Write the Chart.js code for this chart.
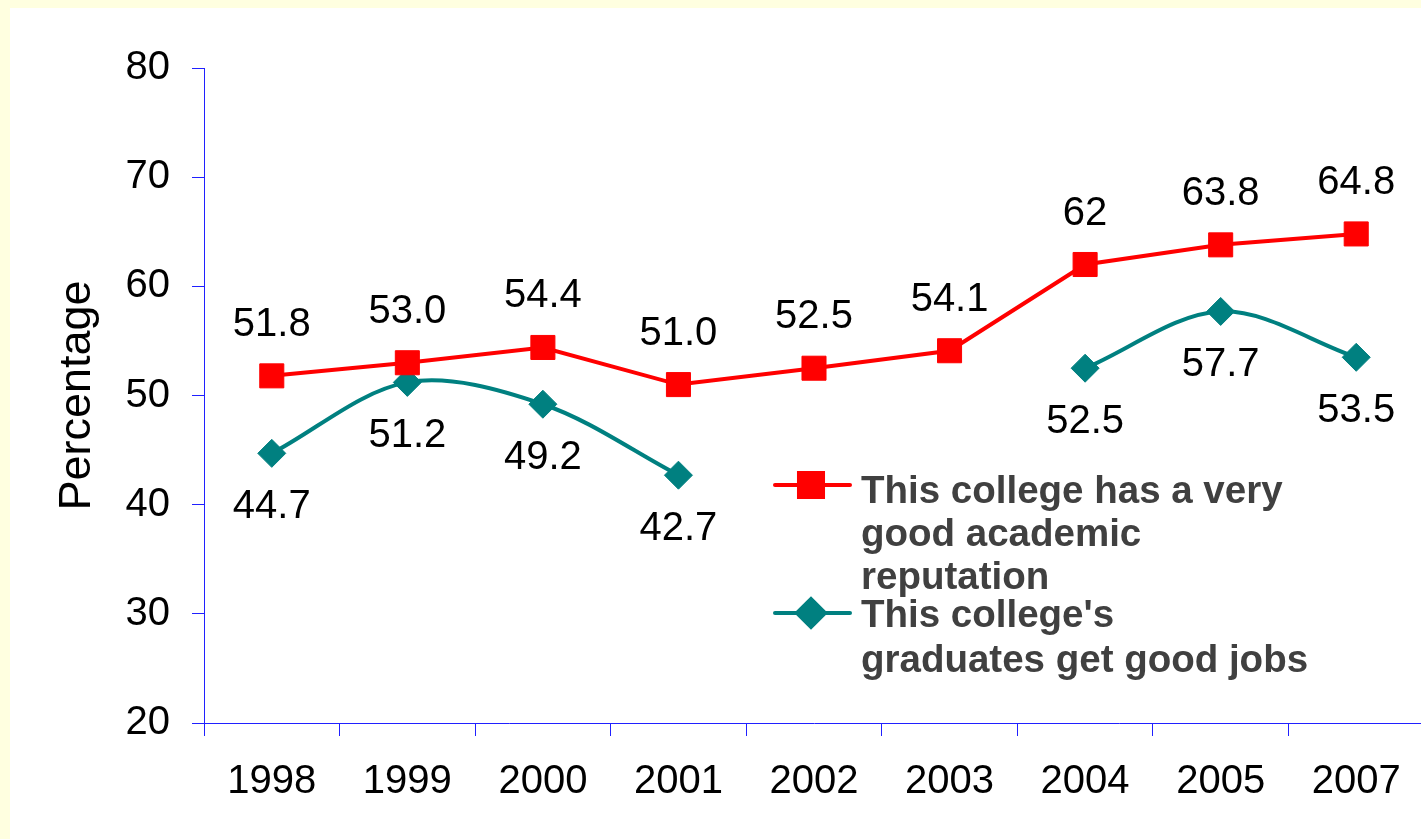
<!DOCTYPE html>
<html>
<head>
<meta charset="utf-8">
<script src="https://cdn.jsdelivr.net/npm/chart.js@4/dist/chart.umd.min.js"></script>
<style>
	html, body { margin: 0; padding: 0; background: #FFFFE0; overflow: hidden; }
	body { width: 1421px; height: 839px; position: relative; }
	#panel { position: absolute; left: 10px; top: 8px; width: 1411px; height: 831px; background: #ffffff; }
	#chart1 { position: absolute; left: 10px; top: 8px; }
</style>
</head>
<body>
<div id="panel"></div>
<canvas id="chart1" width="1432" height="831"></canvas>
<script>
//chart data
var years = ["1998", "1999", "2000", "2001", "2002", "2003", "2004", "2005", "2007"];

var reputationValues = [51.8, 53.0, 54.4, 51.0, 52.5, 54.1, 62, 63.8, 64.8];
var reputationLabels = ["51.8", "53.0", "54.4", "51.0", "52.5", "54.1", "62", "63.8", "64.8"];

var jobsValues = [44.7, 51.2, 49.2, 42.7, null, null, 52.5, 57.7, 53.5];
var jobsLabels = ["44.7", "51.2", "49.2", "42.7", "", "", "52.5", "57.7", "53.5"];

var yTicks = [20, 30, 40, 50, 60, 70, 80];

var legendLines = [
	["This college has a very", "good academic", "reputation"],
	["This college's", "graduates get good jobs"]
];

var axisBlue = "#2020ff";
var fontFamily = "'Liberation Sans', Arial, sans-serif";

//draws the value above/below every point
var valueLabels = {
	id: "valueLabels",
	afterDatasetsDraw: function(chart) {
		var ctx = chart.ctx;
		ctx.save();
		ctx.font = "40px " + fontFamily;
		ctx.fillStyle = "#000000";
		ctx.textAlign = "center";
		ctx.textBaseline = "middle";
		chart.data.datasets.forEach(function(ds, d) {
			var meta = chart.getDatasetMeta(d);
			meta.data.forEach(function(pt, i) {
				var txt = ds.valueText[i];
				if (!txt || ds.data[i] === null) return;
				ctx.fillText(txt, pt.x, pt.y + ds.labelShift);
			});
		});
		ctx.restore();
	}
};

//legend drawn inside the plot, like the original
var insideLegend = {
	id: "insideLegend",
	afterDraw: function(chart) {
		var ctx = chart.ctx;
		var rows = [
			{ markY: 477, textY: [484, 527, 570] },
			{ markY: 605, textY: [608, 653] }
		];
		ctx.save();
		chart.data.datasets.forEach(function(ds, d) {
			var r = rows[d];
			ctx.strokeStyle = ds.borderColor;
			ctx.lineWidth = 4;
			ctx.lineCap = "round";
			ctx.beginPath();
			ctx.moveTo(765, r.markY);
			ctx.lineTo(840, r.markY);
			ctx.stroke();
			Chart.helpers.drawPoint(ctx, {
				pointStyle: ds.pointStyle,
				radius: ds.pointRadius,
				borderWidth: 1,
				rotation: 0
			}, 801, r.markY);
			ctx.fillStyle = ds.pointBackgroundColor;
			ctx.fill();

			ctx.font = "bold 38.5px " + fontFamily;
			ctx.fillStyle = "#404040";
			ctx.textAlign = "left";
			ctx.textBaseline = "middle";
			legendLines[d].forEach(function(line, k) {
				ctx.fillText(line, 851, r.textY[k]);
			});
		});
		ctx.restore();
	}
};

function createChart() {
	var ctx = document.getElementById("chart1");

	var chartdata = {
		labels: years,
		datasets: [
			{
				label: legendLines[0].join(" "),
				data: reputationValues,
				valueText: reputationLabels,
				labelShift: -51,
				borderColor: "#FF0000",
				backgroundColor: "#FF0000",
				pointBackgroundColor: "#FF0000",
				pointBorderColor: "#FF0000",
				pointStyle: "rect",
				pointRadius: 17,
				pointBorderWidth: 1,
				borderWidth: 4,
				tension: 0
			},
			{
				label: legendLines[1].join(" "),
				data: jobsValues,
				valueText: jobsLabels,
				labelShift: 54,
				borderColor: "#008080",
				backgroundColor: "#008080",
				pointBackgroundColor: "#008080",
				pointBorderColor: "#008080",
				pointStyle: "rectRot",
				pointRadius: 14,
				pointBorderWidth: 1,
				borderWidth: 4,
				tension: 0.33,
				spanGaps: false
			}
		]
	};

	var chart = new Chart(ctx, {
		type: "line",
		data: chartdata,
		plugins: [valueLabels, insideLegend],
		options: {
			responsive: false,
			animation: false,
			devicePixelRatio: 1,
			layout: { padding: { top: 60, right: 6, left: 0, bottom: 0 } },
			plugins: {
				legend: { display: false },
				tooltip: { enabled: false }
			},
			scales: {
				x: {
					offset: true,
					grid: { offset: true, drawOnChartArea: false, color: axisBlue, tickLength: 13, lineWidth: 1 },
					border: { color: axisBlue, width: 1 },
					ticks: { color: "#000000", font: { size: 40, family: fontFamily }, padding: 22, maxRotation: 0, autoSkip: false },
					afterFit: function(s) {
						s.height = 116;
						s.paddingLeft = 0;
						s.paddingRight = 0;
					}
				},
				y: {
					min: yTicks[0],
					max: yTicks[yTicks.length - 1],
					afterBuildTicks: function(s) {
						s.ticks = yTicks.map(function(v) { return { value: v }; });
					},
					grid: { drawOnChartArea: false, color: axisBlue, tickLength: 12, lineWidth: 1 },
					border: { color: axisBlue, width: 1 },
					ticks: { color: "#000000", font: { size: 40, family: fontFamily }, padding: 22 },
					title: {
						display: true,
						text: "Percentage",
						color: "#000000",
						font: { size: 45, family: fontFamily },
						padding: { top: 41, bottom: 0 }
					},
					afterFit: function(s) { s.width = 194; }
				}
			}
		}
	});
	return chart;
}

createChart();
</script>
</body>
</html>
